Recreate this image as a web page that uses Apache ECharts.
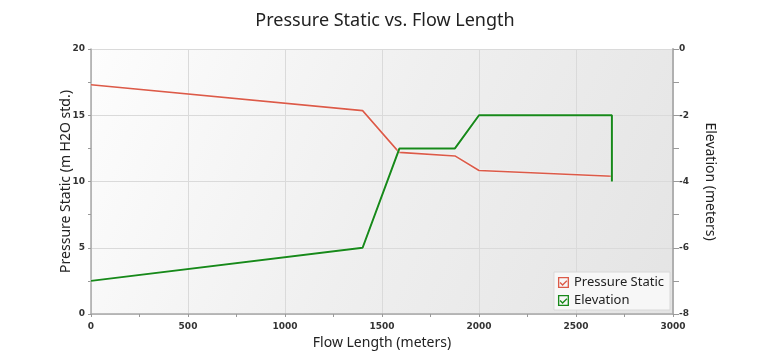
<!DOCTYPE html>
<html>
<head>
<meta charset="utf-8">
<script src="https://cdn.jsdelivr.net/npm/echarts@6/dist/echarts.min.js"></script>
<style>html,body{margin:0;padding:0;background:#fff}#c{width:770px;height:362px}</style>
</head>
<body>
<div id="c"></div>
<script>
const pressureX = [0, 1400, 1588, 1876, 2000, 2685];
const pressureY = [17.3, 15.35, 12.2, 11.93, 10.83, 10.4];
const elevationX = [0, 1400, 1590, 1876, 2000, 2685, 2685];
const elevationY = [-7, -6, -3, -3, -2, -2, -4];
const seriesNames = ['Pressure Static', 'Elevation'];
const xTicks = [0, 500, 1000, 1500, 2000, 2500, 3000];

const chart = echarts.init(document.getElementById('c'), null, {renderer: 'canvas'});
const checkbox = 'path://M0,0 L10,0 L10,10 L0,10 Z M1.2,8.8 L8.8,8.8 L8.8,1.2 L1.2,1.2 Z M2.3,4.6 L4.2,6.4 L7.7,2.9 L8.5,3.8 L4.2,8.1 L1.5,5.4 Z';
const tickFont = {fontFamily: 'DejaVu Sans', fontSize: 9, fontWeight: 'bold', color: '#333'};
chart.setOption({
  animation: false,
  title: {
    text: 'Pressure Static vs. Flow Length',
    left: 'center', top: 7,
    textStyle: {fontFamily: 'Noto Sans', fontSize: 18, fontWeight: 'normal', color: '#222'}
  },
  grid: {
    left: 91, right: 97, top: 49, bottom: 48, show: true, borderWidth: 0,
    backgroundColor: new echarts.graphic.LinearGradient(0, 0, 1, 1, [
      {offset: 0, color: '#fdfdfd'}, {offset: 0.5, color: '#efefef'}, {offset: 1, color: '#e4e4e4'}
    ])
  },
  legend: {
    data: seriesNames.map((n, i) => ({name: n, icon: checkbox})),
    orient: 'vertical', right: 100, bottom: 52,
    itemWidth: 11, itemHeight: 11, itemGap: 5,
    padding: [4, 6, 3, 4],
    backgroundColor: 'rgba(248,248,248,0.95)', borderColor: '#d8d8d8', borderWidth: 1,
    textStyle: {fontFamily: 'Noto Sans', fontSize: 13, color: '#222'}
  },
  xAxis: {
    type: 'value', min: 0, max: 3000, interval: 500,
    name: 'Flow Length (meters)', nameLocation: 'middle', nameGap: 22,
    nameTextStyle: {fontFamily: 'Noto Sans', fontSize: 14, color: '#222'},
    axisLine: {show: true, lineStyle: {color: '#a8a8a8', width: 1.5}},
    axisTick: {show: true, length: 3, lineStyle: {color: '#999'}},
    minorTick: {show: true, splitNumber: 2, length: 3, lineStyle: {color: '#999'}},
    axisLabel: Object.assign({margin: 8, formatter: v => String(v)}, tickFont),
    splitLine: {show: true, lineStyle: {color: '#dadada'}}
  },
  yAxis: [{
    type: 'value', min: 0, max: 20, interval: 5, position: 'left',
    name: 'Pressure Static (m H2O std.)', nameLocation: 'middle', nameGap: 18, nameRotate: 90,
    nameMoveOverlap: false,
    nameTextStyle: {fontFamily: 'Noto Sans', fontSize: 14, color: '#222'},
    axisLine: {show: true, lineStyle: {color: '#a8a8a8', width: 1.5}},
    axisTick: {show: true, length: 3, lineStyle: {color: '#999'}},
    minorTick: {show: true, splitNumber: 2, length: 3, lineStyle: {color: '#999'}},
    axisLabel: Object.assign({margin: 6, formatter: v => String(v)}, tickFont),
    splitLine: {show: true, lineStyle: {color: '#dadada'}}
  }, {
    type: 'value', min: -8, max: 0, interval: 2, position: 'right',
    name: 'Elevation (meters)', nameLocation: 'middle', nameGap: 30, nameRotate: -90,
    nameTextStyle: {fontFamily: 'Noto Sans', fontSize: 14, color: '#222'},
    axisLine: {show: true, lineStyle: {color: '#b0b0b0', width: 2}},
    axisTick: {show: true, length: 6, lineStyle: {color: '#999'}},
    minorTick: {show: true, splitNumber: 2, length: 6, lineStyle: {color: '#999'}},
    axisLabel: Object.assign({margin: 6, formatter: v => String(v)}, tickFont),
    splitLine: {show: false}
  }],
  series: [{
    name: seriesNames[0], type: 'line', yAxisIndex: 0, symbol: 'none',
    color: '#dc5a48',
    lineStyle: {width: 1.6, color: '#dc5a48', shadowColor: 'rgba(255,255,255,0.9)', shadowBlur: 2},
    data: pressureX.map((x, i) => [x, pressureY[i]])
  }, {
    name: seriesNames[1], type: 'line', yAxisIndex: 1, symbol: 'none',
    color: '#17891a',
    lineStyle: {width: 2, color: '#17891a', shadowColor: 'rgba(255,255,255,0.9)', shadowBlur: 2},
    data: elevationX.map((x, i) => [x, elevationY[i]])
  }]
});
</script>
</body>
</html>
